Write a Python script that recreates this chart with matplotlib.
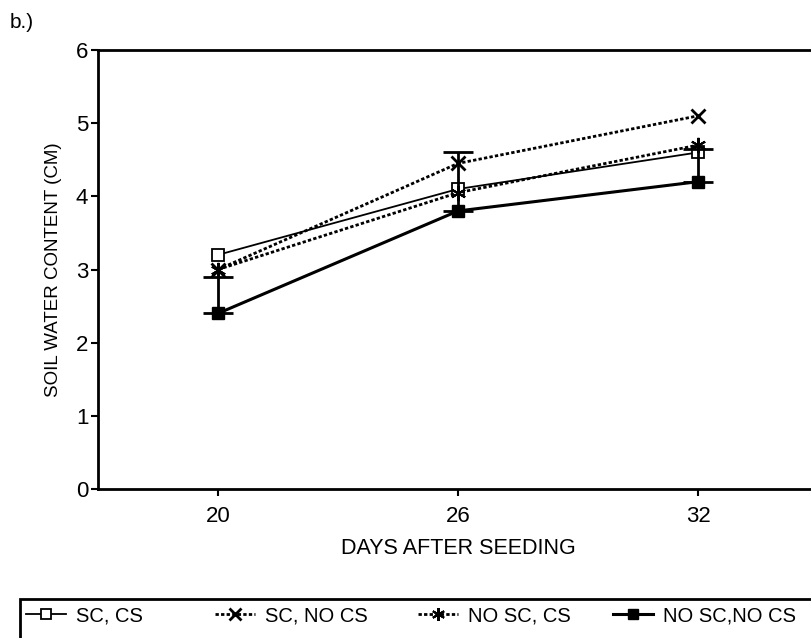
import numpy as np
import matplotlib.pyplot as plt
from matplotlib.lines import Line2D
from matplotlib.patches import Rectangle

# ============================================================
# DATA
# ============================================================

DAYS = [20, 26, 32]

SC_CS = [3.2, 4.1, 4.6]
SC_NO_CS = [3.0, 4.45, 5.1]
NO_SC_CS = [3.0, 4.05, 4.7]
NO_SC_NO_CS = [2.4, 3.8, 4.2]
NO_SC_NO_CS_ERR = [0.5, 0.8, 0.45]

LABELS = ["SC, CS", "SC, NO CS", "NO SC, CS", "NO SC,NO CS"]

# ============================================================
# STYLES
# ============================================================

DOT = (0, (1.2, 0.8))
STYLES = [
    dict(color="k", lw=1.3, ls="-", marker="s", ms=9, mfc="white", mec="k", mew=1.3),
    dict(color="k", lw=2.0, ls=DOT, marker="x", ms=10, mew=2.0),
    dict(color="k", lw=2.0, ls=DOT, marker=(6, 2, 0), ms=11, mew=1.5),
    dict(color="k", lw=2.2, ls="-", marker="s", ms=9),
]

# ============================================================
# FIGURE
# ============================================================

plt.rcParams["font.family"] = ["Liberation Sans", "DejaVu Sans"]

fig = plt.figure(figsize=(8.11, 6.38), dpi=100)
ax = fig.add_axes([98 / 811, 1 - 489 / 638, 720 / 811, (489 - 50) / 638])

ax.plot(DAYS, SC_CS, **STYLES[0])
ax.plot(DAYS, SC_NO_CS, **STYLES[1])
ax.plot(DAYS, NO_SC_CS, **STYLES[2])
ax.errorbar(DAYS, NO_SC_NO_CS, yerr=[np.zeros(3), NO_SC_NO_CS_ERR],
            elinewidth=2.0, capsize=11, capthick=2.0, **STYLES[3])

ax.set_xlim(17, 35)
ax.set_ylim(0, 6)
ax.set_xticks(DAYS)
ax.set_yticks(range(7))

for side in ["left", "bottom", "top", "right"]:
    ax.spines[side].set_linewidth(2.0)

ax.tick_params(axis="both", labelsize=16, width=1.5, length=5, direction="out")
ax.tick_params(axis="y", pad=2)
ax.tick_params(axis="x", pad=7)
ax.set_xlabel("DAYS AFTER SEEDING", fontsize=15.5, labelpad=8)
ax.set_ylabel("SOIL WATER CONTENT (CM)", fontsize=13.5, labelpad=10)

fig.text(10 / 811, 1 - 22 / 638, "b.)", fontsize=15, ha="left", va="center")

# ============================================================
# LEGEND (boxed strip running off the page)
# ============================================================

fig.patches.append(Rectangle((20 / 811, -0.05), 1.0, 0.05 + (638 - 599) / 638,
                             transform=fig.transFigure, fill=False,
                             ec="k", lw=2.0))

LEGEND_X = [26, 215, 418, 613]
for x, style, label in zip(LEGEND_X, STYLES, LABELS):
    handle = Line2D([], [], **style)
    fig.legend([handle], [label], loc="center left",
               bbox_to_anchor=(x / 811, 1 - 616 / 638), frameon=False,
               fontsize=14.5, handlelength=2.0, handletextpad=0.5,
               borderaxespad=0, borderpad=0, markerscale=0.85)

plt.savefig("out.png", dpi=100)
